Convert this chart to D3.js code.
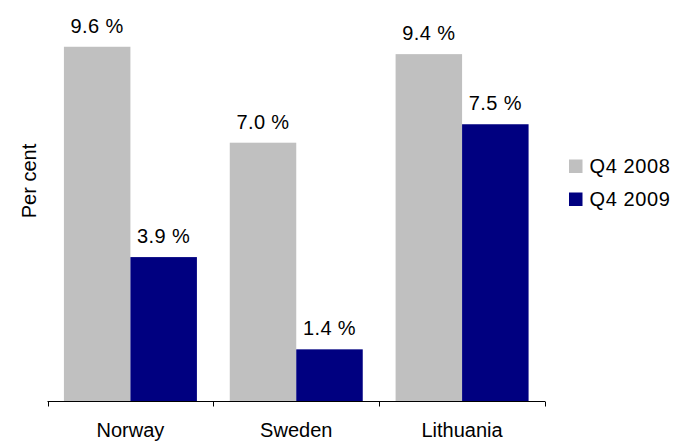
<!DOCTYPE html>
<html>
<head>
<meta charset="utf-8">
<script src="https://cdn.jsdelivr.net/npm/d3@7"></script>
<style>
  html, body { margin: 0; padding: 0; background: #fff; }
  svg { display: block; font-family: "Liberation Sans", Arial, sans-serif; }
</style>
</head>
<body>
<svg id="chart" width="673" height="441"></svg>
<script>
const categories = ["Norway", "Sweden", "Lithuania"];
const seriesNames = ["Q4 2008", "Q4 2009"];
const q4_2008 = [9.6, 7.0, 9.4];
const q4_2009 = [3.9, 1.4, 7.5];
const colors = ["#c0c0c0", "#000080"];
const yLabel = "Per cent";

const seriesValues = [q4_2008, q4_2009];
const data = categories.map((c, i) => ({
  category: c,
  values: seriesNames.map((s, j) => ({ series: s, value: seriesValues[j][i] }))
}));

const svg = d3.select("#chart");
const fontSize = 20;

const x0 = d3.scaleBand().domain(categories).range([47.5, 545]).paddingInner(0).paddingOuter(0);
const x1 = d3.scaleBand().domain(seriesNames).range([0, x0.bandwidth()]).paddingInner(0).paddingOuter(0.247);
const y = d3.scaleLinear().domain([0, 10]).range([401, 32]);
const color = d3.scaleOrdinal().domain(seriesNames).range(colors);

const groups = svg.append("g").selectAll("g").data(data).join("g")
  .attr("transform", d => `translate(${x0(d.category)},0)`);

groups.selectAll("rect").data(d => d.values).join("rect")
  .attr("x", d => x1(d.series))
  .attr("y", d => y(d.value))
  .attr("width", x1.bandwidth())
  .attr("height", d => y(0) - y(d.value))
  .attr("fill", d => color(d.series));

groups.selectAll("text").data(d => d.values).join("text")
  .attr("x", d => x1(d.series) + x1.bandwidth() / 2)
  .attr("y", d => y(d.value) - 14)
  .attr("text-anchor", "middle")
  .attr("font-size", fontSize)
  .attr("letter-spacing", 0.4)
  .attr("fill", "#000")
  .text(d => d.value.toFixed(1) + " %");

// x axis: line with ticks at band boundaries
const axisY = 401.5;
const boundaries = categories.map(c => x0(c)).concat([x0(categories[categories.length - 1]) + x0.bandwidth()]);
const axisG = svg.append("g").attr("stroke", "#000").attr("stroke-width", 1);
axisG.append("line")
  .attr("x1", boundaries[0]).attr("x2", boundaries[boundaries.length - 1])
  .attr("y1", axisY).attr("y2", axisY);
axisG.selectAll("line.tick").data(boundaries).join("line")
  .attr("class", "tick")
  .attr("x1", d => Math.round(d) + 0.5).attr("x2", d => Math.round(d) + 0.5)
  .attr("y1", axisY).attr("y2", axisY + 5);

svg.append("g").selectAll("text").data(categories).join("text")
  .attr("x", d => x0(d) + x0.bandwidth() / 2)
  .attr("y", 437)
  .attr("text-anchor", "middle")
  .attr("font-size", fontSize)
  .attr("fill", "#000")
  .text(d => d);

// y label
svg.append("text")
  .attr("transform", "translate(36,181) rotate(-90)")
  .attr("text-anchor", "middle")
  .attr("font-size", fontSize)
  .attr("fill", "#000")
  .text(yLabel);

// legend
const legend = svg.append("g").selectAll("g").data(seriesNames).join("g")
  .attr("transform", (d, i) => `translate(569,${159.5 + i * 33})`);
legend.append("rect")
  .attr("width", 13.5).attr("height", 13.5)
  .attr("fill", d => color(d));
legend.append("text")
  .attr("x", 20.5).attr("y", 13)
  .attr("font-size", fontSize)
  .attr("letter-spacing", 0.6)
  .attr("fill", "#000")
  .text(d => d);
</script>
</body>
</html>
